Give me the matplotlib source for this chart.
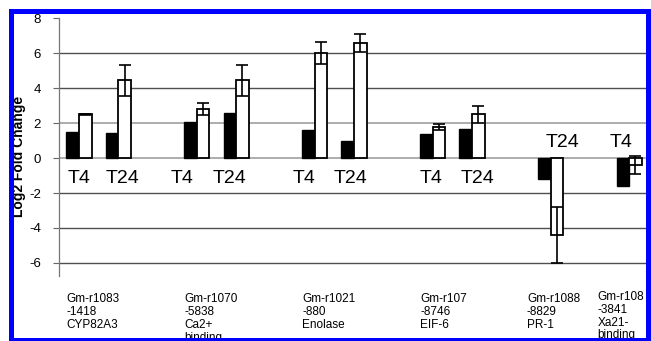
import matplotlib
matplotlib.use("Agg")
import matplotlib.pyplot as plt
from matplotlib.patches import Rectangle
import numpy as np

plt.rcParams['font.family'] = ['Liberation Sans', 'DejaVu Sans']

# gene groups (x-axis categories)
genes = ["Gm-r1083\n-1418\nCYP82A3",
         "Gm-r1070\n-5838\nCa2+\nbinding",
         "Gm-r1021\n-880\nEnolase",
         "Gm-r107\n-8746\nEIF-6",
         "Gm-r1088\n-8829\nPR-1",
         "Gm-r108\n-3841\nXa21-\nbinding"]

# one entry per bar pair
pair_time = ["T4", "T24", "T4", "T24", "T4", "T24", "T4", "T24", "T24", "T4"]
pair_gene = [0, 0, 1, 1, 2, 2, 3, 3, 4, 5]
black_vals = [1.5, 1.45, 2.05, 2.6, 1.6, 1.0, 1.35, 1.65, -1.2, -1.6]
white_vals = [2.5, 4.45, 2.8, 4.45, 6.0, 6.6, 1.78, 2.5, -4.4, -0.4]
white_err = [0.03, 0.9, 0.33, 0.9, 0.62, 0.52, 0.15, 0.5, 1.6, 0.5]

yticks = [-6, -4, -2, 0, 2, 4, 6, 8]

# layout: slot of each pair along x, small shifts for the time labels / gene labels
slot = np.array([0, 1, 3, 4, 6, 7, 9, 10, 12, 14])
time_shift = [0.0, 0.1, -0.39, -0.18, -0.28, -0.08, -0.05, 0.13, 0.3, -0.2]
gene_x = [-0.32, 2.68, 5.68, 8.68, 11.4, 13.2]
gene_y = [-7.75, -7.75, -7.75, -7.75, -7.75, -7.62]
w = 0.32

fig = plt.figure(figsize=(6.51, 3.41), dpi=100)
ax = fig.add_axes([59 / 651, 1 - 276 / 341, (646 - 59) / 651, (276 - 18.3) / 341])

ax.bar(slot - w / 2, black_vals, w, color="black", edgecolor="black", linewidth=1.0, zorder=3)
ax.bar(slot + w / 2, white_vals, w, color="white", edgecolor="black", linewidth=1.3, zorder=3)
ax.errorbar(slot + w / 2, white_vals, yerr=white_err, fmt="none", ecolor="black",
            elinewidth=1.2, capsize=4.6, capthick=1.2, zorder=4)

for x, t, s, v in zip(slot, pair_time, time_shift, black_vals):
    yy = -1.43 if v > 0 else 0.63
    ax.text(x + s, yy, t, ha="center", va="baseline", fontsize=14, clip_on=False)

for gx, gy, g in zip(gene_x, gene_y, genes):
    ax.text(gx, gy, g, ha="left", va="top", fontsize=8.5, linespacing=1.08, clip_on=False)

ax.set_xlim(-0.51, 14.43)
ax.set_ylim(-6.75, 8)
ax.set_yticks(yticks)
ax.set_yticklabels([str(v) for v in yticks], fontsize=9.5)
ax.tick_params(axis="y", length=4, width=0.8, color="#666666", pad=9)
ax.set_xticks([])
for side in ["top", "right", "bottom"]:
    ax.spines[side].set_visible(False)
ax.spines["left"].set_color("#777777")
ax.spines["left"].set_linewidth(0.9)

ax.yaxis.grid(True, zorder=0)
ax.set_axisbelow(True)
for v, gl in zip(yticks, ax.get_ygridlines()):
    if v == 8:
        gl.set_visible(False)
    elif v in (0, 2):
        gl.set_color("#a0a0a0")
        gl.set_linewidth(1.2)
    else:
        gl.set_color("#505050")
        gl.set_linewidth(1.0)

fig.text(19 / 651, 1 - 156 / 341, "Log2 Fold Change", rotation=90, ha="center", va="center",
         fontsize=10, fontweight="bold")

# blue frame around the panel, with white outside it
W, H = 651.0, 341.0
def rect(x0, y0, x1, y1, c):
    fig.patches.append(Rectangle((x0 / W, 1 - y1 / H), (x1 - x0) / W, (y1 - y0) / H,
                                 transform=fig.transFigure, color=c, zorder=10, linewidth=0))
rect(0, 0, W, 9, "white")
rect(0, 0, 9, H, "white")
rect(9, 9, W, 14, "#0000ff")
rect(9, 9, 14, H, "#0000ff")
rect(646, 9, W, H, "#0000ff")
rect(9, 338, W, H, "#0000ff")

fig.savefig("out.png", dpi=100)
